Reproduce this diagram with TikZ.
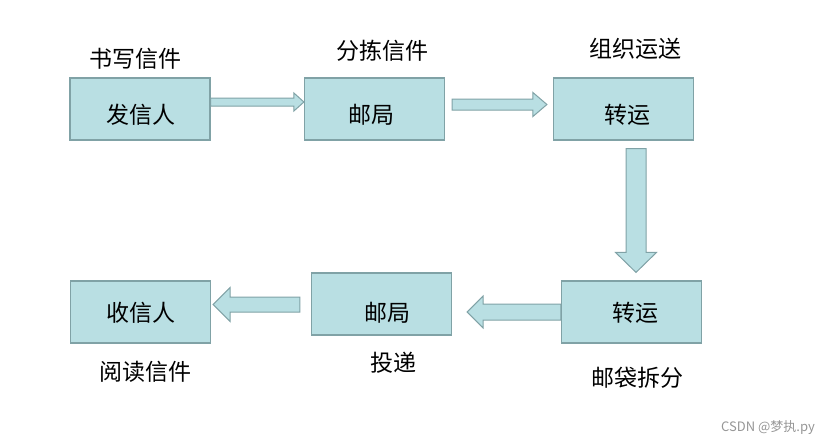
\documentclass[tikz,border=0pt]{standalone}
\usepackage{fontspec}
\setmainfont{Noto Sans CJK SC}
\usetikzlibrary{calc}

\definecolor{boxfill}{RGB}{185,223,227}
\definecolor{boxline}{RGB}{128,162,166}
\definecolor{markgray}{RGB}{150,150,150}

\tikzset{
  stage/.style={draw=boxline,fill=boxfill,line width=1.2pt,minimum width=140pt,minimum height=62pt,inner sep=0pt},
  word/.style={inner sep=0pt,font=\fontsize{23}{26}\selectfont},
  barrow/.style={fill=boxfill,draw=boxline,line width=1pt,line join=miter}
}

% block arrow: from, to, shaft half width, head half width, head length
\newcommand{\blockarrow}[5]{%
  \coordinate (hb) at ($(#2)!#5!(#1)$);
  \draw[barrow] ($(#1)!#3!90:(#2)$) -- ($(hb)!#3!90:(#2)$) -- ($(hb)!#4!90:(#2)$)
    -- (#2) -- ($(hb)!#4!-90:(#2)$) -- ($(hb)!#3!-90:(#2)$) -- ($(#1)!#3!-90:(#2)$) -- cycle;
}

\begin{document}
\begin{tikzpicture}[x=1pt,y=-1pt]
            \useasboundingbox (0,0) rectangle (837,445);

            % Boxes
            \node[stage] (send)   at (140,109)   {};
            \node[stage] (post1)  at (374.5,109) {};
            \node[stage] (trans1) at (623.5,109) {};
            \node[stage] (trans2) at (631.5,312) {};
            \node[stage] (post2)  at (381.5,304) {};
            \node[stage] (recv)   at (140.5,312) {};

            \node[word] (sendtxt)   at ($(send)+(1,5.5)$)     {发信人};
            \node[word] (post1txt)  at ($(post1)+(-3.5,6)$)   {邮局};
            \node[word] (trans1txt) at ($(trans1)+(3.5,5.5)$) {转运};
            \node[word] (trans2txt) at ($(trans2)+(3.5,0.5)$) {转运};
            \node[word] (post2txt)  at ($(post2)+(6,9)$)      {邮局};
            \node[word] (recvtxt)   at ($(recv)+(0.5,1)$)     {收信人};

            % Labels
            \node[word] (write)  at (135,59)  {书写信件};
            \node[word] (sort)   at (382,51)  {分拣信件};
            \node[word] (ship)   at (635,49)  {组织运送};
            \node[word] (read)   at (145,372) {阅读信件};
            \node[word] (give)   at (393,363) {投递};
            \node[word] (split)  at (637,378) {邮袋拆分};

            % Arrows
            \coordinate (a1s) at ($(send.east)+(0,-7)$);
            \coordinate (a1e) at ($(post1.west)+(0,-7)$);
            \blockarrow{a1s}{a1e}{4pt}{9pt}{10pt}

            \coordinate (a2s) at ($(post1.east)+(7,-4.5)$);
            \coordinate (a2e) at ($(trans1.west)+(-6,-4.5)$);
            \blockarrow{a2s}{a2e}{5.5pt}{12pt}{14pt}

            \coordinate (a3s) at ($(trans1.south)+(12.5,8)$);
            \coordinate (a3e) at ($(trans2.north)+(4.5,-8)$);
            \blockarrow{a3s}{a3e}{10pt}{20.5pt}{20pt}

            \coordinate (a4s) at (trans2.west);
            \coordinate (a4e) at ($(post2.east)+(15,8)$);
            \blockarrow{a4s}{a4e}{8pt}{16pt}{16pt}

            \coordinate (a5s) at ($(post2.west)+(-11,0.5)$);
            \coordinate (a5e) at ($(recv.east)+(2,-7.5)$);
            \blockarrow{a5s}{a5e}{7.5pt}{17pt}{17pt}

            \node[text=markgray,font=\fontsize{13}{15}\selectfont,inner sep=0pt] (mark) at (768,428) {CSDN @梦执.py};
        \end{tikzpicture}
\end{document}
